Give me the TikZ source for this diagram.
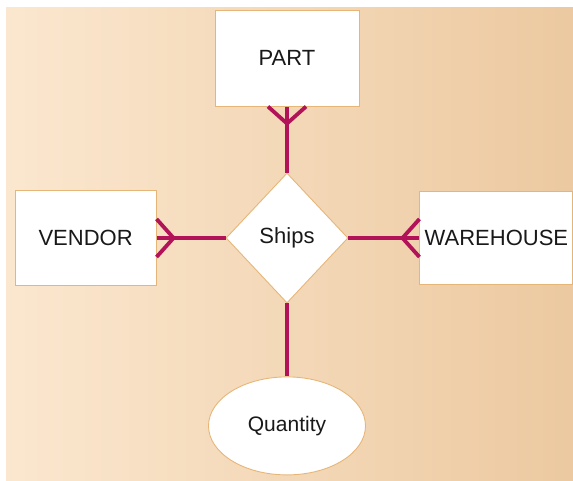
\documentclass[tikz,border=0pt]{standalone}
\usepackage{fontspec}
\setmainfont{Liberation Sans}
\usetikzlibrary{positioning,shapes.geometric,calc}
\definecolor{relcolor}{RGB}{178,18,88}
\definecolor{edgecolor}{RGB}{230,182,120}
\definecolor{bgleft}{RGB}{251,231,207}
\definecolor{bgright}{RGB}{236,201,160}
\tikzset{
  entity/.style={rectangle,draw=edgecolor,line width=0.9pt,fill=white,inner sep=1pt,
    text=black!90,font=\fontsize{22}{26}\selectfont},
  relation/.style={diamond,draw=edgecolor,line width=0.9pt,fill=white,inner sep=1pt,
    minimum width=122pt,minimum height=130pt,text=black!90,font=\fontsize{22}{26}\selectfont},
  attribute/.style={ellipse,draw=edgecolor,line width=0.9pt,fill=white,inner sep=1pt,
    minimum width=157pt,minimum height=98pt,text=black!90,font=\fontsize{21}{25}\selectfont},
  rel/.style={draw=relcolor,line width=3.8pt},
}
% crow's foot: #1 anchor on the entity, #2 direction towards the relationship
\newcommand{\crowsfoot}[2]{%
  \draw[rel] ($(#1)+(#2+90:19pt)$) -- ($(#1)+(#2:17pt)$) -- ($(#1)+(#2-90:19pt)$);}

\begin{document}
\begin{tikzpicture}[x=1pt,y=-1pt]
\useasboundingbox (0,0) rectangle (573,481);
\fill[white] (0,0) rectangle (573,481);
\shade[left color=bgleft,right color=bgright] (6,8) rectangle (573,481);

\node[relation] (ships) at (287,238) {Ships};
\node[entity,minimum width=144pt,minimum height=96pt,above=66pt of ships] (part) {PART};
\node[entity,minimum width=141pt,minimum height=95pt,left=69pt of ships] (vendor) {VENDOR};
\node[entity,minimum width=153pt,minimum height=93pt,right=71pt of ships] (warehouse) {WAREHOUSE};
\node[attribute,below=73pt of ships] (quantity) {Quantity};

\draw[rel] (ships.north) -- (part.south);
\draw[rel] (ships.west) -- (vendor.east);
\draw[rel] (ships.east) -- (warehouse.west);
\draw[rel] (ships.south) -- (quantity.north);

\crowsfoot{part.south}{-90}
\crowsfoot{vendor.east}{0}
\crowsfoot{warehouse.west}{180}

\end{tikzpicture}
\end{document}
